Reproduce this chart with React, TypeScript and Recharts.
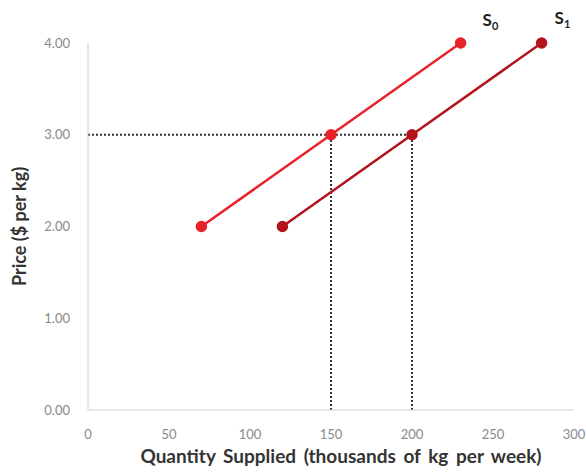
import React from 'react'
import { ComposedChart, Line, XAxis, YAxis, ReferenceLine, Label } from 'recharts'

// supply schedules: quantity (thousands of kg per week) vs price ($ per kg)
const s0Quantity = [70, 150, 230]
const s1Quantity = [120, 200, 280]
const prices = [2, 3, 4]

const xTicks = [0, 50, 100, 150, 200, 250, 300]
const yTicks = [0, 1, 2, 3, 4]

const s0Data = s0Quantity.map((q, i) => ({ q, p: prices[i] }))
const s1Data = s1Quantity.map((q, i) => ({ q, p: prices[i] }))

const S0_COLOR = '#e8222b'
const S1_COLOR = '#b3141c'
const FONT = 'Lato, "Open Sans", sans-serif'

const curveLabel = (name: string, sub: string, dx: number, dy: number, last: number) => (props: any) => {
  if (props.index !== last) return null
  return (
    <text x={props.x + dx} y={props.y + dy} fontFamily={FONT} fontWeight={700} fill="#222" fontSize={17}>
      {name}
      <tspan fontSize={11} dy={4}>{sub}</tspan>
    </text>
  )
}

export default function App() {
  return (
    <div style={{ position: 'absolute', left: 0, top: 0, background: '#fff' }}>
      <ComposedChart width={586} height={472} margin={{ top: 43, right: 12, bottom: 0, left: 0 }}>
        <XAxis
          type="number"
          dataKey="q"
          domain={[0, 300]}
          ticks={xTicks}
          tickLine={false}
          tickSize={0}
          tickMargin={20}
          height={62}
          stroke="#d0d0d0"
          tick={{ fill: '#8a8a8a', fontSize: 13, fontFamily: FONT }}
        >
          <Label
            value="Quantity Supplied (thousands of kg per week)"
            position="insideBottom"
            offset={9}
            dx={10}
            style={{ fontFamily: FONT, fontWeight: 700, fontSize: 19, fill: '#333', wordSpacing: 3 }}
          />
        </XAxis>
        <YAxis
          type="number"
          dataKey="p"
          domain={[0, 4]}
          ticks={yTicks}
          tickFormatter={(v: number) => v.toFixed(2)}
          tickLine={false}
          tickSize={0}
          tickMargin={18}
          width={88}
          stroke="#d0d0d0"
          tick={{ fill: '#8a8a8a', fontSize: 13, fontFamily: FONT }}
        >
          <Label
            value="Price ($ per kg)"
            angle={-90}
            position="insideLeft"
            offset={20}
            dy={0}
            style={{ fontFamily: FONT, fontWeight: 700, fontSize: 18, fill: '#333', textAnchor: 'middle' }}
          />
        </YAxis>
        <ReferenceLine segment={[{ x: 0, y: 3 }, { x: 200, y: 3 }]} stroke="#333" strokeWidth={2} strokeDasharray="2 2" />
        <ReferenceLine segment={[{ x: 150, y: 0 }, { x: 150, y: 3 }]} stroke="#333" strokeWidth={2} strokeDasharray="2 2" />
        <ReferenceLine segment={[{ x: 200, y: 0 }, { x: 200, y: 3 }]} stroke="#333" strokeWidth={2} strokeDasharray="2 2" />
        <Line
          data={s0Data}
          dataKey="p"
          stroke={S0_COLOR}
          strokeWidth={2.5}
          dot={{ r: 4.5, fill: S0_COLOR, stroke: S0_COLOR }}
          isAnimationActive={false}
          label={curveLabel('S', '0', 22, -17, s0Data.length - 1)}
        />
        <Line
          data={s1Data}
          dataKey="p"
          stroke={S1_COLOR}
          strokeWidth={2.5}
          dot={{ r: 4.5, fill: S1_COLOR, stroke: S1_COLOR }}
          isAnimationActive={false}
          label={curveLabel('S', '1', 13, -19, s1Data.length - 1)}
        />
      </ComposedChart>
    </div>
  )
}
